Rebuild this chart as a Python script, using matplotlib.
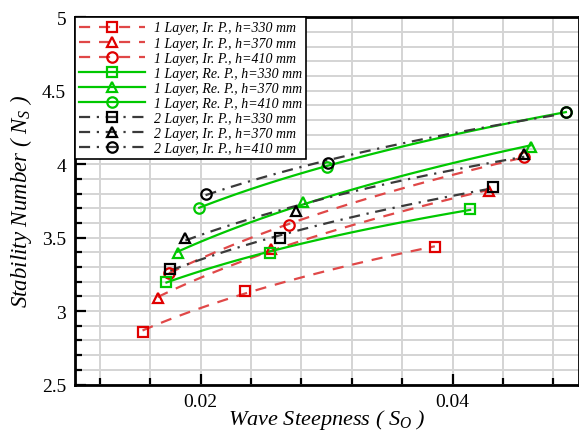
import numpy as np
import matplotlib
matplotlib.use("Agg")
import matplotlib.pyplot as plt
from matplotlib.ticker import MultipleLocator, FuncFormatter

plt.rcParams['font.family'] = ['Liberation Serif', 'DejaVu Serif']
plt.rcParams['mathtext.fontset'] = 'custom'
plt.rcParams['mathtext.rm'] = 'Liberation Serif'
plt.rcParams['mathtext.it'] = 'Liberation Serif:italic'

# ---- data ----
labels = [
    "1 Layer, Ir. P., h=330 mm", "1 Layer, Ir. P., h=370 mm", "1 Layer, Ir. P., h=410 mm",
    "1 Layer, Re. P., h=330 mm", "1 Layer, Re. P., h=370 mm", "1 Layer, Re. P., h=410 mm",
    "2 Layer, Ir. P., h=330 mm", "2 Layer, Ir. P., h=370 mm", "2 Layer, Ir. P., h=410 mm",
]
ir1_330_x = [0.0154, 0.0235, 0.0386]
ir1_330_y = [2.86, 3.134, 3.433]
ir1_370_x = [0.0166, 0.0256, 0.0429]
ir1_370_y = [3.09, 3.42, 3.82]
ir1_410_x = [0.0175, 0.0270, 0.0457]
ir1_410_y = [3.26, 3.587, 4.05]
re1_330_x = [0.0173, 0.0255, 0.0414]
re1_330_y = [3.20, 3.395, 3.694]
re1_370_x = [0.0182, 0.0281, 0.0462]
re1_370_y = [3.395, 3.744, 4.118]
re1_410_x = [0.0199, 0.0300, 0.0490]
re1_410_y = [3.705, 3.984, 4.356]
ir2_330_x = [0.0176, 0.0263, 0.0432]
ir2_330_y = [3.286, 3.495, 3.846]
ir2_370_x = [0.0188, 0.0276, 0.0457]
ir2_370_y = [3.50, 3.68, 4.068]
ir2_410_x = [0.0204, 0.0301, 0.0490]
ir2_410_y = [3.80, 4.005, 4.356]

series = [
    (ir1_330_x, ir1_330_y), (ir1_370_x, ir1_370_y), (ir1_410_x, ir1_410_y),
    (re1_330_x, re1_330_y), (re1_370_x, re1_370_y), (re1_410_x, re1_410_y),
    (ir2_330_x, ir2_330_y), (ir2_370_x, ir2_370_y), (ir2_410_x, ir2_410_y),
]
markers = ['s', '^', 'o'] * 3
mcolors = ['#e00000'] * 3 + ['#00c800'] * 3 + ['#000000'] * 3
lcolors = ['#e04848'] * 3 + ['#00c800'] * 3 + ['#3a3a3a'] * 3
lstyles = [(0, (5, 4))] * 3 + ['-'] * 3 + [(0, (5, 3, 1, 3))] * 3

fig = plt.figure(figsize=(5.79, 4.35), dpi=100)
ax = fig.add_axes([74.5 / 579, 1 - 385.5 / 435, (578.5 - 74.5) / 579, (385.5 - 18.3) / 435])

handles = []
for (xs, ys), m, mc, lc, ls, lab in zip(series, markers, mcolors, lcolors, lstyles, labels):
    xs = np.array(xs); ys = np.array(ys)
    b, a = np.polyfit(np.log(xs), np.log(ys), 1)
    xf = np.linspace(xs.min(), xs.max(), 100)
    ax.plot(xf, np.exp(a) * xf ** b, color=lc, ls=ls, lw=1.6, zorder=3)
    ax.plot(xs, ys, ls='none', marker=m, ms=7.5, mfc='none', mec=mc, mew=1.6, zorder=4)
    h, = ax.plot([], [], color=lc, ls=ls, lw=1.6, marker=m, ms=7.5, mfc='none', mec=mc, mew=1.6)
    handles.append(h)

ax.set_xlim(0.01, 0.05)
ax.set_ylim(2.5, 5)
ax.xaxis.set_major_locator(MultipleLocator(0.02))
ax.xaxis.set_minor_locator(MultipleLocator(0.004))
ax.yaxis.set_major_locator(MultipleLocator(0.5))
ax.yaxis.set_minor_locator(MultipleLocator(0.1))
ax.xaxis.set_major_formatter(FuncFormatter(lambda v, p: f"{v:g}"))
ax.yaxis.set_major_formatter(FuncFormatter(lambda v, p: f"{v:g}"))
ax.grid(True, which='both', color='#d4d4d4', lw=1.4, zorder=0)
ax.set_axisbelow(True)
ax.tick_params(which='both', direction='in', top=False, right=False, labelsize=14, width=1.6)
ax.tick_params(which='major', length=8, pad=6)
ax.tick_params(which='minor', length=5)
for s in ['left', 'bottom', 'top', 'right']:
    ax.spines[s].set_linewidth(2)

ax.set_xlabel(r"Wave Steepness ( $S_O$ )", fontsize=16, style='italic', labelpad=-2)
ax.set_ylabel(r"Stability Number ( $N_S$ )", fontsize=16.5, style='italic', labelpad=6)

leg = ax.legend(handles, labels, loc='upper left', bbox_to_anchor=(0, 1), borderaxespad=0,
                prop={'family': 'Liberation Serif', 'style': 'italic', 'size': 10},
                handlelength=4.8, labelspacing=0.15, handletextpad=0.6, borderpad=0.3,
                fancybox=False, framealpha=1, edgecolor='black')
leg.get_frame().set_linewidth(1.2)
leg.set_zorder(10)

fig.savefig("out.png", dpi=100)
